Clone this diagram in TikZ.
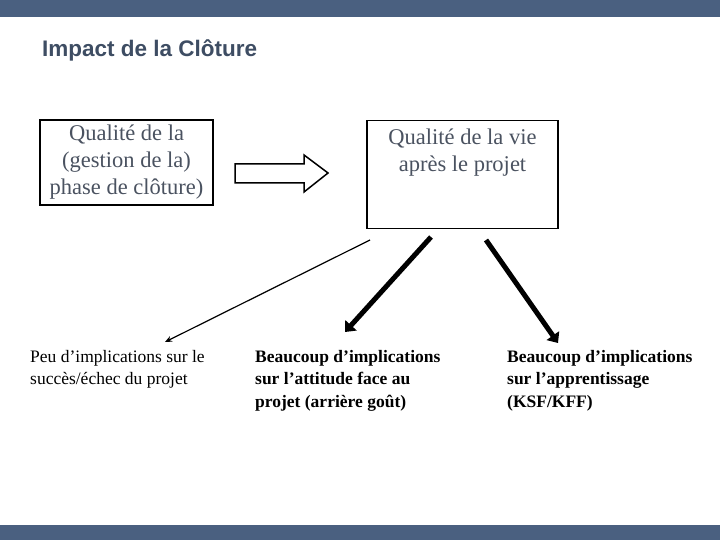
\documentclass[tikz,border=0pt]{standalone}
\usepackage{fontspec}
\setmainfont{Liberation Serif}
\newfontfamily\sansf{Liberation Sans}
\usetikzlibrary{arrows.meta}
\definecolor{barc}{HTML}{4A6080}
\definecolor{txtc}{HTML}{4A5260}
\definecolor{titc}{HTML}{3E4D63}
\newcommand{\apo}{\symbol{39}}
\begin{document}
\begin{tikzpicture}[x=1pt,y=-1pt,
  box/.style={draw,line width=1.5pt,align=center,text=txtc,font=\fontsize{22.5}{27}\selectfont,inner sep=0},
  lbl/.style={anchor=north west,align=left,font=\fontsize{17.5}{22.5}\selectfont,inner sep=0}]
\useasboundingbox (0,0) rectangle (720,540);
\fill[barc] (0,0) rectangle (720,17);
\fill[barc] (0,525) rectangle (720,540);
\node[anchor=west,inner sep=0,text=titc,font=\sansf\bfseries\fontsize{22.5}{26}\selectfont] (title) at (42,50) {Impact de la Clôture};
\node[box,minimum width=173pt,minimum height=85pt] (b1) at (126.5,162.5) {Qualité de la\\(gestion de la)\\phase de clôture)};
\node[box,minimum width=191pt,minimum height=108pt,anchor=north] (b2) at (462.5,120) {};
\node[text=txtc,align=center,inner sep=0,font=\fontsize{22.5}{27}\selectfont,anchor=north] (b2t) at (462.5,129) {Qualité de la vie\\après le projet};
\draw[line width=1.5pt,fill=white] (235,164) -- (304,164) -- (304,155) -- (328,173) -- (304,192) -- (304,183) -- (235,183) -- cycle;
\node[lbl] (t1) at (30,350) {Peu d\apo implications sur le\\succès/échec du projet};
\node[lbl,font=\bfseries\fontsize{17.5}{22.5}\selectfont] (t2) at (255,350) {Beaucoup d’implications\\sur l\apo attitude face au\\projet (arrière goût)};
\node[lbl,font=\bfseries\fontsize{17.5}{22.5}\selectfont] (t3) at (507,350) {Beaucoup d’implications\\sur l\apo apprentissage\\(KSF/KFF)};
\coordinate (s1) at (370,240); \coordinate (e1) at (165,342);
\coordinate (s2) at (431,237); \coordinate (e2) at (345,332);
\coordinate (s3) at (486,240); \coordinate (e3) at (558,343);
\draw[line width=1.2pt,-{Stealth[length=7pt,width=6pt]}] (s1) -- (e1);
\draw[line width=5pt,-{Triangle[length=9pt,width=15pt]}] (s2) -- (e2);
\draw[line width=5pt,-{Triangle[length=9pt,width=15pt]}] (s3) -- (e3);
\end{tikzpicture}
\end{document}
